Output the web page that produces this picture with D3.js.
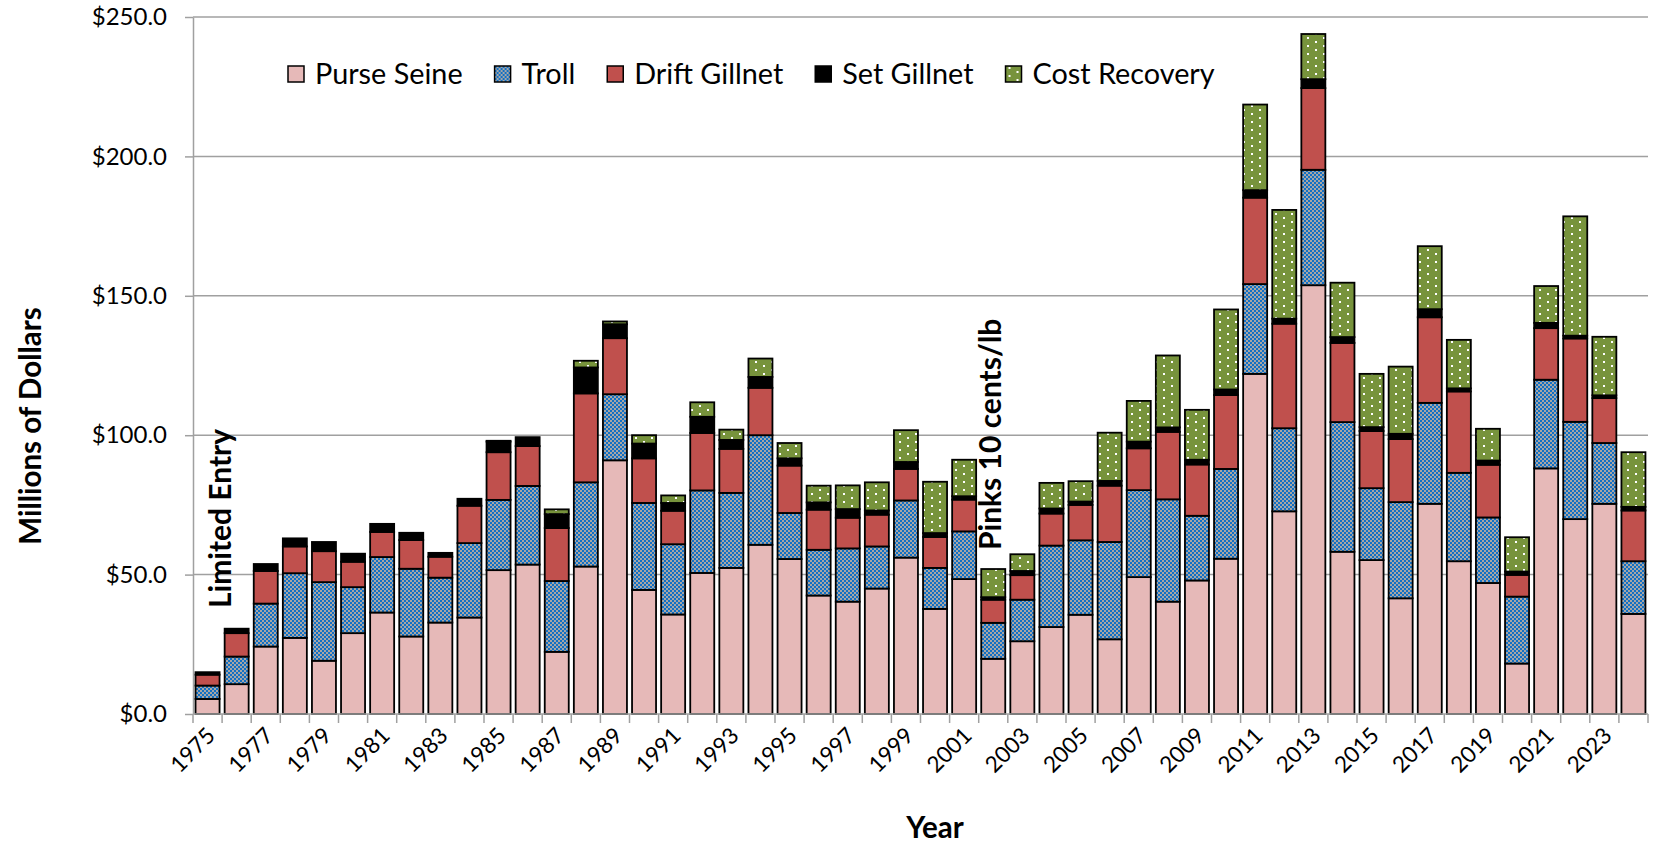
<!DOCTYPE html>
<meta charset="utf-8">
<style>
  body { margin: 0; background: #fff; }
  svg text { font-family: Lato, "Open Sans", sans-serif; fill: #000; }
</style>
<body>
<div id="chart"></div>
<script src="https://cdn.jsdelivr.net/npm/d3@7"></script>
<script>
const years = d3.range(1975, 2025);

const purseSeine = [5.4, 10.7, 24.2, 27.3, 19.1, 29.0, 36.4, 27.8, 32.8, 34.6,
  51.6, 53.6, 22.3, 52.9, 91.0, 44.5, 35.7, 50.6, 52.4, 60.7,
  55.6, 42.5, 40.3, 45.0, 56.1, 37.7, 48.4, 19.8, 26.1, 31.2,
  35.6, 26.8, 49.1, 40.3, 47.9, 55.7, 122.0, 72.7, 153.8, 58.2,
  55.2, 41.5, 75.4, 54.8, 47.0, 18.1, 88.1, 69.9, 75.4, 35.9];

const troll = [4.8, 9.9, 15.4, 23.2, 28.2, 16.5, 19.9, 24.3, 16.1, 26.7,
  25.2, 28.2, 25.4, 30.2, 23.7, 31.2, 25.2, 29.6, 26.9, 39.3,
  16.5, 16.4, 19.1, 15.1, 20.5, 14.7, 17.1, 12.9, 14.9, 29.2,
  26.7, 34.9, 31.2, 36.7, 23.2, 32.2, 32.2, 29.8, 41.4, 46.5,
  25.8, 34.5, 36.2, 31.7, 23.5, 24.0, 31.8, 34.9, 21.8, 18.9];

const driftGillnet = [3.9, 8.4, 11.7, 9.6, 11.1, 9.1, 9.0, 10.3, 7.5, 13.4,
  17.1, 14.3, 19.0, 31.9, 20.1, 16.0, 12.0, 20.6, 15.8, 17.0,
  17.0, 14.4, 11.0, 11.4, 11.3, 11.1, 11.4, 8.3, 8.8, 11.5,
  12.7, 20.2, 15.0, 24.2, 18.4, 26.5, 31.0, 37.5, 29.3, 28.4,
  20.5, 22.6, 30.7, 29.2, 18.9, 7.8, 18.5, 29.9, 16.1, 18.2];

const setGillnet = [0.9, 1.6, 2.5, 2.9, 3.3, 2.9, 2.9, 2.6, 1.4, 2.5,
  3.8, 3.2, 5.0, 9.3, 5.0, 5.3, 2.8, 5.8, 3.2, 3.9,
  2.6, 2.6, 3.1, 1.5, 2.5, 1.4, 1.2, 0.9, 1.5, 1.8,
  1.2, 1.7, 2.4, 1.6, 1.7, 2.0, 2.7, 1.8, 3.2, 2.1,
  1.4, 1.9, 2.9, 1.1, 1.5, 1.2, 1.9, 1.0, 1.0, 1.3];

const costRecovery = [0, 0, 0, 0, 0, 0, 0, 0, 0, 0,
  0.3, 0, 1.7, 2.4, 1.0, 3.0, 2.7, 5.2, 3.7, 6.6,
  5.5, 6.0, 8.5, 10.1, 11.4, 18.4, 13.1, 10.1, 6.0, 9.2,
  7.3, 17.3, 14.6, 25.8, 17.9, 28.7, 30.7, 39.0, 16.2, 19.5,
  19.1, 24.1, 22.6, 17.4, 11.4, 12.3, 13.2, 42.8, 21.0, 19.6];

const seriesNames = ["Purse Seine", "Troll", "Drift Gillnet", "Set Gillnet", "Cost Recovery"];
const seriesValues = [purseSeine, troll, driftGillnet, setGillnet, costRecovery];
const yTicks = [0, 50, 100, 150, 200, 250];

const width = 1656, height = 848;
const margin = {left: 193, right: 8, top: 17, bottom: 134};

const svg = d3.select("#chart").append("svg")
    .attr("width", width)
    .attr("height", height);

// patterns for troll (checker) and cost recovery (dots)
const defs = svg.append("defs");
const checker = defs.append("pattern")
    .attr("id", "pat-troll")
    .attr("patternUnits", "userSpaceOnUse")
    .attr("width", 4).attr("height", 4);
checker.append("rect").attr("width", 4).attr("height", 4).attr("fill", "#a6a6a6");
checker.append("rect").attr("width", 2).attr("height", 2).attr("fill", "#1270c4");
checker.append("rect").attr("x", 2).attr("y", 2).attr("width", 2).attr("height", 2).attr("fill", "#1270c4");

const dots = defs.append("pattern")
    .attr("id", "pat-cost")
    .attr("patternUnits", "userSpaceOnUse")
    .attr("width", 16).attr("height", 8);
dots.append("rect").attr("width", 16).attr("height", 8).attr("fill", "#77933c");
dots.append("rect").attr("x", 3).attr("y", 1).attr("width", 2).attr("height", 2).attr("fill", "#fff");
dots.append("rect").attr("x", 11).attr("y", 5).attr("width", 2).attr("height", 2).attr("fill", "#fff");

const fills = ["#e6b9b8", "url(#pat-troll)", "#c0504d", "#000000", "url(#pat-cost)"];

const x = d3.scaleBand()
    .domain(years)
    .range([margin.left, width - margin.right])
    .paddingInner(0.175)
    .paddingOuter(0.0875);

const y = d3.scaleLinear()
    .domain([0, 250])
    .range([height - margin.bottom, margin.top]);

// gridlines
svg.append("g")
    .selectAll("line")
    .data(yTicks.filter(d => d > 0))
    .enter().append("line")
    .attr("x1", margin.left)
    .attr("x2", width - margin.right)
    .attr("y1", d => y(d))
    .attr("y2", d => y(d))
    .style("stroke", "#a0a0a0")
    .style("stroke-width", 1.5);

// y axis
const yAxis = svg.append("g")
    .attr("transform", "translate(" + margin.left + ",0)")
    .call(d3.axisLeft(y).tickValues(yTicks).tickSize(8).tickSizeOuter(0).tickPadding(18)
        .tickFormat(d => "$" + d.toFixed(1)));
yAxis.selectAll("line, path").style("stroke", "#a0a0a0").style("stroke-width", 1.5);
yAxis.selectAll("text").style("font-size", "24px").style("font-family", "Lato, sans-serif");

// stacked bars
const table = years.map((yr, i) => {
    const row = {year: yr};
    seriesNames.forEach((s, k) => row[s] = seriesValues[k][i]);
    return row;
});
const stacked = d3.stack().keys(seriesNames)(table);

svg.append("g")
    .selectAll("g")
    .data(stacked)
    .enter().append("g")
    .attr("fill", (d, k) => fills[k])
    .selectAll("rect")
    .data(d => d.filter(v => v[1] - v[0] > 0))
    .enter().append("rect")
    .attr("x", d => x(d.data.year))
    .attr("width", x.bandwidth())
    .attr("y", d => y(d[1]))
    .attr("height", d => y(d[0]) - y(d[1]))
    .style("stroke", "#000")
    .style("stroke-width", 1.8);

// x axis: line, ticks at category boundaries, labels every other year
const x0 = y(0);
const halfGap = x.step() * x.paddingInner() / 2;
const xAxis = svg.append("g");
xAxis.append("line")
    .attr("x1", margin.left).attr("x2", width - margin.right)
    .attr("y1", x0).attr("y2", x0)
    .style("stroke", "#a0a0a0").style("stroke-width", 1.5);
xAxis.selectAll(".tick")
    .data(years.concat([null]))
    .enter().append("line")
    .attr("x1", (d, i) => i < years.length ? x(d) - halfGap : x(years[years.length - 1]) + x.bandwidth() + halfGap)
    .attr("x2", (d, i) => i < years.length ? x(d) - halfGap : x(years[years.length - 1]) + x.bandwidth() + halfGap)
    .attr("y1", x0).attr("y2", x0 + 9)
    .style("stroke", "#a0a0a0").style("stroke-width", 1.5);
xAxis.selectAll("text")
    .data(years.filter((d, i) => i % 2 === 0))
    .enter().append("text")
    .attr("transform", d => "translate(" + (x(d) + x.bandwidth() / 2 + 9) + "," + (x0 + 23) + ") rotate(-45)")
    .attr("text-anchor", "end")
    .style("font-size", "22.5px")
    .text(d => d);

// axis titles
svg.append("text")
    .attr("transform", "translate(41,426) rotate(-90)")
    .attr("text-anchor", "middle")
    .style("font-size", "29.5px")
    .style("font-weight", "bold")
    .text("Millions of Dollars");

svg.append("text")
    .attr("x", 935)
    .attr("y", 838)
    .attr("text-anchor", "middle")
    .style("font-size", "29.5px")
    .style("font-weight", "bold")
    .text("Year");

// annotations
svg.append("text")
    .attr("transform", "translate(231,608) rotate(-90)")
    .style("font-size", "30px")
    .style("font-weight", "bold")
    .text("Limited Entry");

svg.append("text")
    .attr("transform", "translate(1001,550) rotate(-90)")
    .style("font-size", "30px")
    .style("font-weight", "bold")
    .text("Pinks 10 cents/lb");

// legend
const legend = svg.append("g").attr("transform", "translate(288,74)");
let lx = 0;
seriesNames.forEach((name, k) => {
    const item = legend.append("g").attr("transform", "translate(" + lx + ",0)");
    item.append("rect")
        .attr("x", 0).attr("y", -8)
        .attr("width", 16).attr("height", 16)
        .attr("fill", fills[k])
        .style("stroke", "#000").style("stroke-width", 1.5);
    const t = item.append("text")
        .attr("x", 27).attr("dy", "0.35em")
        .style("font-size", "28.8px")
        .text(name);
    lx += 27 + t.node().getComputedTextLength() + 32;
});
</script>
</body>
